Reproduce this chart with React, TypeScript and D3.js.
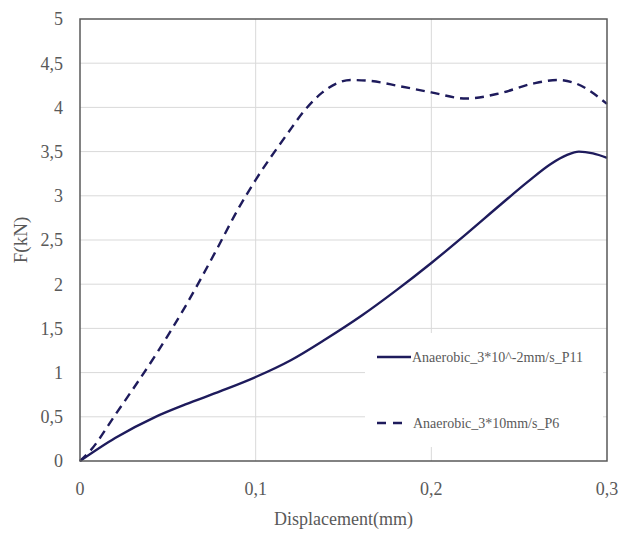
import React from "react";
import * as d3 from "d3";

// Force–displacement curves (d in mm, F in kN)
const slowDisp = [0, 0.02, 0.043, 0.06, 0.08, 0.1, 0.12, 0.14, 0.16, 0.18, 0.2, 0.22, 0.24, 0.255, 0.268, 0.277, 0.284, 0.292, 0.3];
const slowForce = [0, 0.26, 0.5, 0.64, 0.79, 0.95, 1.14, 1.38, 1.64, 1.93, 2.24, 2.57, 2.91, 3.16, 3.36, 3.46, 3.5, 3.48, 3.43];

const fastDisp = [0, 0.006, 0.02, 0.045, 0.06, 0.078, 0.09, 0.1, 0.118, 0.128, 0.138, 0.146, 0.154, 0.165, 0.182, 0.2, 0.22, 0.239, 0.258, 0.272, 0.281, 0.3];
const fastForce = [0, 0.12, 0.52, 1.26, 1.75, 2.4, 2.85, 3.18, 3.7, 3.97, 4.17, 4.27, 4.31, 4.3, 4.24, 4.17, 4.1, 4.16, 4.27, 4.31, 4.28, 4.04];

const seriesNames = ["Anaerobic_3*10^-2mm/s_P11", "Anaerobic_3*10mm/s_P6"];

const xTicks = [0, 0.1, 0.2, 0.3];
const yTicks = [0, 0.5, 1, 1.5, 2, 2.5, 3, 3.5, 4, 4.5, 5];

const W = 633;
const H = 534;
const margin = { left: 80, right: 26, top: 19, bottom: 73 };

const lineColor = "#1e1b5c";
const textColor = "#595959";
const font = '"Times New Roman", "Liberation Serif", "DejaVu Serif", serif';

const locale = d3.formatLocale({ decimal: ",", thousands: ".", grouping: [3], currency: ["", ""] });
const fmt = locale.format("~g");

export default function App() {
  const x = d3.scaleLinear().domain([0, 0.3]).range([margin.left, W - margin.right]);
  const y = d3.scaleLinear().domain([0, 5]).range([H - margin.bottom, margin.top]);

  const line = d3
    .line<[number, number]>()
    .x((d) => x(d[0]))
    .y((d) => y(d[1]))
    .curve(d3.curveMonotoneX);

  const slow = slowDisp.map((d, i) => [d, slowForce[i]] as [number, number]);
  const fast = fastDisp.map((d, i) => [d, fastForce[i]] as [number, number]);

  const x0 = x(0), x1 = x(0.3), y0 = y(0), y1 = y(5);

  return (
    <svg width={W} height={H} style={{ position: "absolute", left: 0, top: 0, background: "#fff" }} fontFamily={font}>
      <rect x={0} y={0} width={W} height={H} fill="#fff" />
      {/* gridlines */}
      {yTicks.slice(1, -1).map((t) => (
        <line key={"gy" + t} x1={x0} x2={x1} y1={y(t)} y2={y(t)} stroke="#d9d9d9" strokeWidth={1} />
      ))}
      {xTicks.slice(1, -1).map((t) => (
        <line key={"gx" + t} x1={x(t)} x2={x(t)} y1={y0} y2={y1} stroke="#d9d9d9" strokeWidth={1} />
      ))}
      {/* legend background */}
      <rect x={365} y={333} width={238} height={114} fill="#fff" />
      {/* curves */}
      <path d={line(slow) || ""} fill="none" stroke={lineColor} strokeWidth={2.4} />
      <path d={line(fast) || ""} fill="none" stroke={lineColor} strokeWidth={2.4} strokeDasharray="9 6" />
      {/* frame */}
      <rect x={x0} y={y1} width={x1 - x0} height={y0 - y1} fill="none" stroke={textColor} strokeWidth={1.5} />
      {/* y ticks */}
      {yTicks.map((t) => (
        <text key={"ty" + t} x={63} y={y(t)} dy="0.35em" textAnchor="end" fontSize={18} fill={textColor}>
          {fmt(t)}
        </text>
      ))}
      {/* x ticks */}
      {xTicks.map((t) => (
        <text key={"tx" + t} x={x(t)} y={495} textAnchor="middle" fontSize={18} fill={textColor}>
          {fmt(t)}
        </text>
      ))}
      <text x={(x0 + x1) / 2} y={525} textAnchor="middle" fontSize={18} fill={textColor}>
        Displacement(mm)
      </text>
      <text transform={`translate(27,${(y0 + y1) / 2}) rotate(-90)`} textAnchor="middle" fontSize={19} fill={textColor}>
        F(kN)
      </text>
      {/* legend */}
      <line x1={377} x2={411} y1={357} y2={357} stroke={lineColor} strokeWidth={2.4} />
      <text x={412} y={357} dy="0.35em" fontSize={14} fill={textColor}>
        {seriesNames[0]}
      </text>
      <line x1={377} x2={404} y1={423} y2={423} stroke={lineColor} strokeWidth={2.4} strokeDasharray="9 7" />
      <text x={413} y={423} dy="0.35em" fontSize={14} fill={textColor}>
        {seriesNames[1]}
      </text>
    </svg>
  );
}
